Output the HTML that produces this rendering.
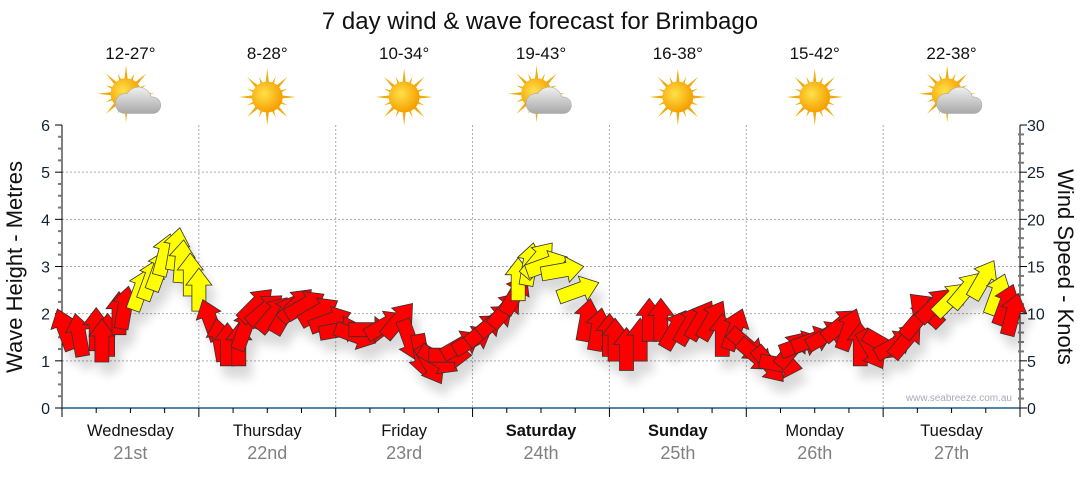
<!DOCTYPE html>
<html><head><meta charset="utf-8">
<style>
body{margin:0;background:#fff;}
svg text{font-family:"Liberation Sans",sans-serif;}
</style></head>
<body>
<svg id="chart" width="1080" height="475" viewBox="0 0 1080 475" xmlns="http://www.w3.org/2000/svg">
<defs>
<filter id="shadow" x="-50%" y="-50%" width="200%" height="200%">
<feGaussianBlur in="SourceAlpha" stdDeviation="5"/>
<feOffset dx="6" dy="12" result="b"/>
<feComponentTransfer><feFuncA type="linear" slope="0.15"/></feComponentTransfer>
<feMerge><feMergeNode/><feMergeNode in="SourceGraphic"/></feMerge>
</filter>
<radialGradient id="sunG" cx="0.4" cy="0.4" r="0.6"><stop offset="0" stop-color="#ffe14a"/><stop offset="1" stop-color="#f5a000"/></radialGradient>
<linearGradient id="rayG" x1="0" y1="0" x2="0" y2="1"><stop offset="0" stop-color="#f2b400"/><stop offset="1" stop-color="#e89a30"/></linearGradient>
<linearGradient id="cloudG" x1="0" y1="0" x2="0" y2="1"><stop offset="0" stop-color="#f0f0f0"/><stop offset="1" stop-color="#a8a8a8"/></linearGradient>
</defs>
<text x="540" y="29" font-size="24" text-anchor="middle" fill="#111">7 day wind &amp; wave forecast for Brimbago</text>
<g id="grid"></g>
<g id="topRow"></g>
<g id="axes"></g>
<g id="arrows" filter="url(#shadow)"></g>
<text x="1012" y="401" font-size="10" text-anchor="end" fill="#aab">www.seabreeze.com.au</text>
<text transform="translate(22,267) rotate(-90)" font-size="22" text-anchor="middle" fill="#111">Wave Height - Metres</text>
<text transform="translate(1058,267) rotate(90)" font-size="22" text-anchor="middle" fill="#111">Wind Speed - Knots</text>
</svg>
<script>
const days=["Wednesday","Thursday","Friday","Saturday","Sunday","Monday","Tuesday"];
const dates=["21st","22nd","23rd","24th","25th","26th","27th"];
const boldDays=[false,false,false,true,true,false,false];
const temps=["12-27°","8-28°","10-34°","19-43°","16-38°","15-42°","22-38°"];
const cloudy=[true,false,false,true,false,false,true];
const leftTicks=[0,1,2,3,4,5,6];
const rightTicks=[0,5,10,15,20,25,30];
const hours=[0.5,3,6,8,7,10,11,13.7,15.5,17,18,20,21,22.5,24,26,27.7,29,31,32,34,35.6,37,39,41,42.6,45,47,48.8,51.4,54,56.6,59,61,63,64.6,66,68,70,72,74,76,77.7,79.5,80,82,83.5,85,87.7,90.5,92,94,96,97,99,101.4,103,105,107.5,110,112,114,115.8,118,120,121.6,124,126,128,129.5,131.6,134,136.5,138,140,142,144,146,148,150,151.5,153,155.8,158.5,161.5,164,165.5,166.7];
const knots=[8.3,7.7,8.3,7.7,7.1,10,10.6,12.5,13.6,14.6,16.2,16.8,15.5,14.1,12.5,9.3,7.2,6.7,6.7,8.3,10.9,10.4,9.9,9.9,10.9,10.9,10.2,9.3,8.3,7.7,8.3,8.8,9.3,7.2,5.6,4.6,5.1,5.6,6.7,7.2,8.3,9.3,10.4,12,13.6,15.2,15.7,15.2,14.6,12.5,9.3,8.3,7.7,7.2,6.2,7.2,9.3,9.3,8.3,8.8,9.3,9.3,7.7,8.3,6.7,5.6,4.6,4.6,6.2,6.7,7.2,7.7,8.8,8.3,6.7,6.2,6.7,6.7,7.2,9.3,10.4,10.9,11.5,12.5,13.6,12,10.9,9.9];
const dirs=[-20,-10,0,0,0,0,10,20,20,20,15,10,5,0,0,-20,-10,0,0,20,45,50,40,30,45,60,60,70,80,110,90,60,40,160,170,150,120,90,60,60,50,50,40,30,0,10,40,70,80,70,10,10,0,0,0,0,0,0,30,30,30,30,0,20,130,130,140,100,40,70,70,60,50,20,0,150,120,60,40,40,-45,45,45,40,30,20,20,15];
const yellow=[0,0,0,0,0,0,0,1,1,1,1,1,1,1,1,0,0,0,0,0,0,0,0,0,0,0,0,0,0,0,0,0,0,0,0,0,0,0,0,0,0,0,0,0,1,1,1,1,1,1,0,0,0,0,0,0,0,0,0,0,0,0,0,0,0,0,0,0,0,0,0,0,0,0,0,0,0,0,0,0,0,0,1,1,1,1,0,0];

const X0=62,X1=1020,Y0=408,Y1=125;
const xH=h=>X0+h*(X1-X0)/168;
const yM=m=>Y0-m*(Y0-Y1)/6;
const yK=k=>Y0-k*(Y0-Y1)/30;
const NS="http://www.w3.org/2000/svg";
function mk(tag,attrs,parent,text){const e=document.createElementNS(NS,tag);for(const k in attrs)e.setAttribute(k,attrs[k]);if(text!==undefined)e.textContent=text;parent.appendChild(e);return e;}
const gridG=document.getElementById('grid'),axesG=document.getElementById('axes'),topG=document.getElementById('topRow'),arrowsG=document.getElementById('arrows');

leftTicks.forEach(v=>{if(v>0&&v<6){const l=mk('line',{x1:X0,x2:X1,y1:yM(v),y2:yM(v),stroke:'#aaa','stroke-dasharray':'2,2'},gridG);

}});
for(let d=1;d<7;d++){const l=mk('line',{x1:xH(d*24),x2:xH(d*24),y1:Y1,y2:Y0,stroke:'#aaa','stroke-dasharray':'2,2'},gridG);

}

mk('line',{x1:X0,x2:X0,y1:Y1,y2:Y0,stroke:'#000'},axesG);
mk('line',{x1:X1,x2:X1,y1:Y1,y2:Y0,stroke:'#000'},axesG);
for(let i=0;i<=24;i++){const y=yM(i/4),maj=i%4==0;mk('line',{x1:X0-(maj?7:4),x2:X0,y1:y,y2:y,stroke:maj?'#000':'#777','stroke-width':maj?1:2},axesG);}
for(let i=0;i<=30;i++){const y=yK(i),maj=i%5==0;mk('line',{x1:X1-(maj?0:2),x2:X1+(maj?7:4),y1:y,y2:y,stroke:maj?'#000':'#777','stroke-width':maj?1:2},axesG);}
leftTicks.forEach(v=>{const t=mk('text',{x:50,y:yM(v)+6,'font-size':16,'text-anchor':'end',fill:'#123'},axesG,v);

});
rightTicks.forEach(v=>{const t=mk('text',{x:1027,y:yK(v)+6,'font-size':16,fill:'#123'},axesG,v);

});
mk('line',{x1:X0,x2:X1,y1:Y0,y2:Y0,stroke:'#1d5a8a','stroke-width':1.5},axesG);
for(let i=0;i<=28;i++){const x=xH(i*6),maj=i%4==0;mk('line',{x1:x,x2:x,y1:Y0,y2:Y0+(maj?9:5),stroke:'#000'},axesG);}
days.forEach((d,i)=>{const cx=xH(i*24+12);
const t=mk('text',{x:cx,y:436,'font-size':16.5,'text-anchor':'middle',fill:'#111','font-weight':boldDays[i]?'bold':'normal'},axesG,d);


const t2=mk('text',{x:cx,y:459,'font-size':18,'text-anchor':'middle',fill:'#808080'},axesG,dates[i]);


const t3=mk('text',{x:cx,y:59,'font-size':17,'text-anchor':'middle',fill:'#111'},topG,temps[i]);


const g=mk('g',{transform:`translate(${cx},97) scale(1.1)`},topG);


const sx=cloudy[i]?-4:0,sy=cloudy[i]?-3:0;
for(let r=0;r<16;r++){const a=r*22.5,L=r%2?20:26;mk('polygon',{points:`-3,0 3,0 0,${-L}`,fill:'url(#rayG)',transform:`translate(${sx},${sy}) rotate(${a})`},g);}
mk('circle',{cx:sx,cy:sy,r:14,fill:'url(#sunG)'},g);
if(cloudy[i]){mk('path',{d:'M-6,15 a9,9 0 0 1 3,-18 a12,12 0 0 1 22,3 a7.5,7.5 0 0 1 2,15 z',fill:'url(#cloudG)',stroke:'#aaa','stroke-width':0.5},g);}
});

hours.forEach((h,i)=>{
const p=mk('polygon',{points:'-7,21 7,21 7,-5 13,-5 0,-22 -13,-5 -7,-5',fill:yellow[i]?'#ffff00':'#ff0000',stroke:'#333','stroke-width':0.8,transform:`translate(${xH(h).toFixed(1)},${yK(knots[i]).toFixed(1)}) rotate(${dirs[i]})`},arrowsG);


});
</script>
</body></html>
